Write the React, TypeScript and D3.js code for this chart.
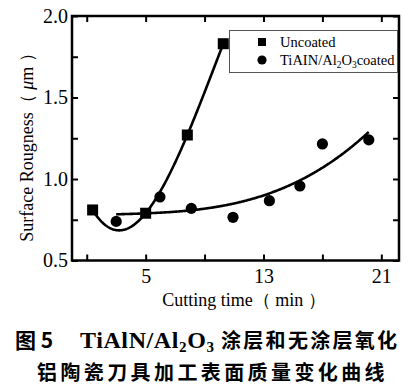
import * as d3 from "d3";
import { useEffect, useRef } from "react";

// squares (uncoated) and circles (coated)
const uncoatedX = [1.4, 5, 7.83, 10.27];
const uncoatedY = [0.81, 0.79, 1.27, 1.83];
const coatedX = [3, 5.97, 8.1, 10.93, 13.4, 15.47, 17, 20.15];
const coatedY = [0.74, 0.89, 0.82, 0.765, 0.867, 0.957, 1.215, 1.24];

const xTicks = [1, 5, 9, 13, 17, 21];
const xLabels = [5, 13, 21];
const yTicks = [0.5, 0.75, 1, 1.25, 1.5, 1.75, 2];
const yLabels = [0.5, 1, 1.5, 2];

const serif = "'Liberation Serif', 'Times New Roman', serif";
const cjk = "'Noto Sans CJK SC', sans-serif";

// least squares polynomial fit (cubic trend lines)
function polyFit(xs: number[], ys: number[], deg: number) {
  const n = deg + 1;
  const A = Array.from({ length: n }, () => new Array(n + 1).fill(0));
  for (let i = 0; i < xs.length; i++) {
    for (let r = 0; r < n; r++) {
      for (let c = 0; c < n; c++) A[r][c] += Math.pow(xs[i], r + c);
      A[r][n] += ys[i] * Math.pow(xs[i], r);
    }
  }
  for (let col = 0; col < n; col++) {
    let piv = col;
    for (let r = col + 1; r < n; r++) if (Math.abs(A[r][col]) > Math.abs(A[piv][col])) piv = r;
    [A[col], A[piv]] = [A[piv], A[col]];
    for (let r = 0; r < n; r++) {
      if (r === col) continue;
      const f = A[r][col] / A[col][col];
      for (let c = col; c <= n; c++) A[r][c] -= f * A[col][c];
    }
  }
  return A.map((row, i) => row[n] / row[i]);
}
const evalPoly = (k: number[], x: number) => k.reduce((s, c, i) => s + c * Math.pow(x, i), 0);

const App = () => {
  const ref = useRef<SVGSVGElement>(null);

  useEffect(() => {
    const svg = d3.select(ref.current);
    svg.selectAll("*").remove();

    const left = 72, right = 399, top = 16, bottom = 260.5;
    const x = d3.scaleLinear().domain([0, 22.2]).range([left, right]);
    const y = d3.scaleLinear().domain([0.5, 2.0]).range([bottom, top]);

    // axes, ticks pointing inward
    const fmtX = (d: any) => (xLabels.includes(d) ? String(d) : "");
    const fmtY = (d: any) => (yLabels.includes(d) ? d3.format(".1f")(d) : "");

    const axes = [
      svg.append("g").attr("transform", `translate(0,${bottom})`)
        .call(d3.axisBottom(x).tickValues(xTicks).tickSize(-6).tickPadding(8).tickFormat(fmtX)),
      svg.append("g").attr("transform", `translate(0,${top})`)
        .call(d3.axisTop(x).tickValues(xTicks).tickSize(-6).tickFormat(() => "")),
      svg.append("g").attr("transform", `translate(${left},0)`)
        .call(d3.axisLeft(y).tickValues(yTicks).tickSize(-6).tickPadding(4).tickFormat(fmtY)),
      svg.append("g").attr("transform", `translate(${right},0)`)
        .call(d3.axisRight(y).tickValues(yTicks).tickSize(-6).tickFormat(() => "")),
    ];
    axes.forEach(g => {
      g.select(".domain").remove();
      g.selectAll("line").attr("stroke", "#000").attr("stroke-width", 2);
      g.selectAll("text").attr("fill", "#000").attr("font-family", serif).attr("font-size", 20);
    });

    svg.append("rect")
      .attr("x", left).attr("y", top)
      .attr("width", right - left).attr("height", bottom - top)
      .attr("fill", "none").attr("stroke", "#000").attr("stroke-width", 2.5);

    // fitted curves
    const line = d3.line<number[]>().x(d => x(d[0])).y(d => y(d[1]));
    const kU = polyFit(uncoatedX, uncoatedY, 3);
    const kC = polyFit(coatedX, coatedY, 3);
    const xsU = d3.range(d3.min(uncoatedX)!, d3.max(uncoatedX)! + 0.001, 0.05);
    const xsC = d3.range(d3.min(coatedX)!, d3.max(coatedX)! + 0.001, 0.05);
    svg.append("path").attr("d", line(xsU.map(v => [v, evalPoly(kU, v)])))
      .attr("fill", "none").attr("stroke", "#000").attr("stroke-width", 2.6);
    svg.append("path").attr("d", line(xsC.map(v => [v, evalPoly(kC, v)])))
      .attr("fill", "none").attr("stroke", "#000").attr("stroke-width", 2.6);

    // markers
    const sq = 11;
    svg.append("g").selectAll("rect").data(uncoatedX).join("rect")
      .attr("x", (d) => x(d) - sq / 2)
      .attr("y", (d, i) => y(uncoatedY[i]) - sq / 2)
      .attr("width", sq).attr("height", sq).attr("fill", "#000");
    svg.append("g").selectAll("circle").data(coatedX).join("circle")
      .attr("cx", d => x(d))
      .attr("cy", (d, i) => y(coatedY[i]))
      .attr("r", 5.6).attr("fill", "#000");

    // legend
    const lg = svg.append("g");
    lg.append("rect").attr("x", 229.5).attr("y", 30.5).attr("width", 168).attr("height", 42)
      .attr("fill", "#fff").attr("stroke", "#555").attr("stroke-width", 1);
    lg.append("rect").attr("x", 258).attr("y", 38).attr("width", 8).attr("height", 8).attr("fill", "#000");
    lg.append("circle").attr("cx", 262).attr("cy", 60).attr("r", 4.6).attr("fill", "#000");
    lg.append("text").attr("x", 280).attr("y", 47).attr("font-family", serif).attr("font-size", 14.5)
      .text("Uncoated");
    const t2 = lg.append("text").attr("x", 280).attr("y", 64.5).attr("font-family", serif).attr("font-size", 14.5);
    t2.append("tspan").text("TiAIN/Al");
    t2.append("tspan").attr("font-size", 9.5).attr("dy", 3).text("2");
    t2.append("tspan").attr("dy", -3).text("O");
    t2.append("tspan").attr("font-size", 9.5).attr("dy", 3).text("3");
    t2.append("tspan").attr("dy", -3).text("coated");

    // axis titles
    svg.append("text").attr("x", 244).attr("y", 306).attr("text-anchor", "middle")
      .attr("font-family", serif).attr("font-size", 18).text("Cutting time（ min ）");
    const yt = svg.append("text").attr("transform", "translate(33,143) rotate(-90)")
      .attr("text-anchor", "middle").attr("font-family", serif).attr("font-size", 18);
    yt.append("tspan").text("Surface Rougness（ ");
    yt.append("tspan").attr("font-style", "italic").text("μ");
    yt.append("tspan").text("m ）");

    // caption
    svg.append("text").attr("x", 15).attr("y", 348).attr("font-family", cjk).attr("font-weight", "bold")
      .attr("font-size", 21).text("图 5");
    const cap = svg.append("text").attr("x", 80).attr("y", 348).attr("font-family", serif)
      .attr("font-weight", "bold").attr("font-size", 24).attr("letter-spacing", 0.6);
    cap.append("tspan").text("TiAlN/Al");
    cap.append("tspan").attr("font-size", 15).attr("dy", 4).text("2");
    cap.append("tspan").attr("dy", -4).text("O");
    cap.append("tspan").attr("font-size", 15).attr("dy", 4).text("3");
    svg.append("text").attr("x", 221).attr("y", 348).attr("font-family", cjk).attr("font-weight", "bold")
      .attr("font-size", 20).attr("letter-spacing", 2.3).text("涂层和无涂层氧化");
    svg.append("text").attr("x", 37).attr("y", 380).attr("font-family", cjk).attr("font-weight", "bold")
      .attr("font-size", 20).attr("letter-spacing", 3.4).text("铝陶瓷刀具加工表面质量变化曲线");

    return () => { svg.selectAll("*").remove(); };
  }, []);

  return (
    <svg ref={ref} width={410} height={390}
      style={{ position: "absolute", left: 0, top: 0, background: "#fff" }} />
  );
};

export default App;
